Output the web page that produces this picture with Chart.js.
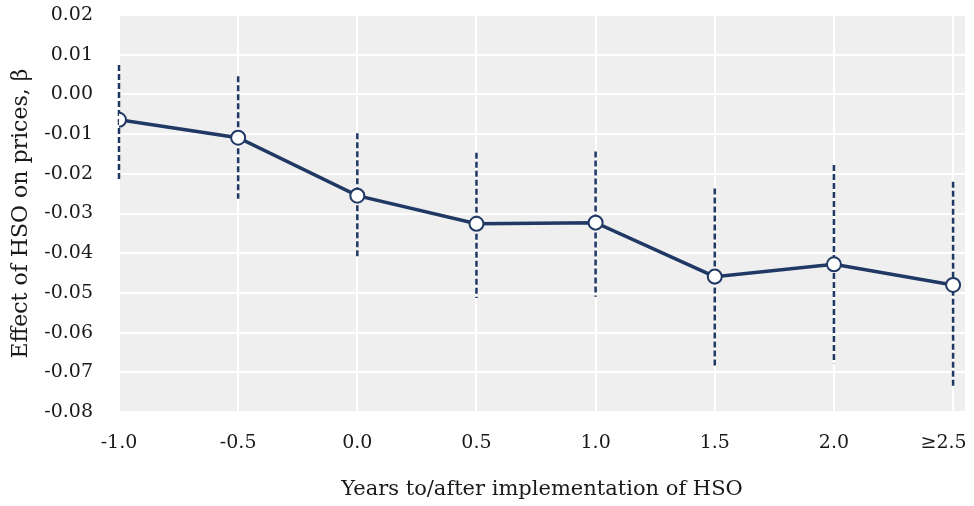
<!DOCTYPE html>
<html>
<head>
<meta charset="utf-8">
<script src="https://cdn.jsdelivr.net/npm/chart.js@4/dist/chart.umd.min.js"></script>
<style>
  html, body { margin: 0; padding: 0; background: #fff; }
  #wrap { width: 974px; height: 506px; }
</style>
</head>
<body>
<div id="wrap"><canvas id="main-chart"></canvas></div>
<script>
// ---- Data ----
const categories = ['-1.0', '-0.5', '0.0', '0.5', '1.0', '1.5', '2.0', '\u22652.5'];
const beta    = [-0.0064, -0.0109, -0.0255, -0.0326, -0.0323, -0.0459, -0.0428, -0.0480];
const ciLow   = [-0.0216, -0.0263, -0.0412, -0.0513, -0.0510, -0.0684, -0.0677, -0.0740];
const ciHigh  = [ 0.0074,  0.0046, -0.0098, -0.0147, -0.0144, -0.0237, -0.0178, -0.0220];
const yTicks  = [0.02, 0.01, 0.00, -0.01, -0.02, -0.03, -0.04, -0.05, -0.06, -0.07, -0.08];

const NAVY = '#1f3864';
const TXT  = '#1a1a1a';
const FONT = "'DejaVu Serif', 'Liberation Serif', serif";

const points = beta.map((v, i) => ({ x: i, y: v }));

// gray panel behind the plot
const panelBg = {
  id: 'panelBg',
  beforeDraw(chart) {
    const { ctx, chartArea: { left, top, width, height } } = chart;
    ctx.save();
    ctx.fillStyle = '#efefef';
    ctx.fillRect(left, top, width, height);
    ctx.restore();
  }
};

// dashed confidence bands
const ciBars = {
  id: 'ciBars',
  beforeDatasetsDraw(chart) {
    const { ctx, scales: { x, y } } = chart;
    ctx.save();
    ctx.strokeStyle = NAVY;
    ctx.lineWidth = 2.5;
    ctx.setLineDash([6, 3]);
    categories.forEach((c, i) => {
      const px = x.getPixelForValue(i);
      ctx.beginPath();
      ctx.moveTo(px, y.getPixelForValue(ciHigh[i]));
      ctx.lineTo(px, y.getPixelForValue(ciLow[i]));
      ctx.stroke();
    });
    ctx.restore();
  }
};

new Chart(document.getElementById('main-chart'), {
  type: 'line',
  data: {
    datasets: [{
      label: 'beta',
      data: points,
      borderColor: NAVY,
      borderWidth: 3.5,
      pointRadius: 7,
      pointBackgroundColor: '#ffffff',
      pointBorderColor: NAVY,
      pointBorderWidth: 2,
      tension: 0,
    }]
  },
  options: {
    responsive: true,
    maintainAspectRatio: false,
    animation: false,
    layout: { padding: { top: 15, right: 5, left: 0, bottom: 0 } },
    plugins: {
      legend: { display: false },
      tooltip: { enabled: false }
    },
    scales: {
      x: {
        type: 'linear',
        min: 0,
        max: 7.1,
        afterBuildTicks: axis => { axis.ticks = categories.map((c, i) => ({ value: i })); },
        afterFit: axis => { axis.height = 94; axis.paddingLeft = 0; axis.paddingRight = 0; },
        border: { display: false },
        grid: { color: '#ffffff', lineWidth: 2, drawTicks: false },
        ticks: {
          color: TXT,
          font: { family: FONT, size: 19 },
          padding: 20,
          maxRotation: 0,
          // last label is pushed left a little so it stays inside the canvas
          callback: v => v === categories.length - 1 ? categories[v] + '\u2002\u2002' : categories[v]
        },
        title: {
          display: true,
          text: 'Years to/after implementation of HSO',
          color: TXT,
          font: { family: FONT, size: 21 },
          padding: { top: 0, bottom: 4 }
        }
      },
      y: {
        min: -0.08,
        max: 0.02,
        afterBuildTicks: axis => { axis.ticks = yTicks.map(v => ({ value: v })); },
        afterFit: axis => { axis.width = 119; axis.paddingTop = 0; axis.paddingBottom = 0; },
        border: { display: false },
        grid: { color: '#ffffff', lineWidth: 2, drawTicks: false },
        ticks: {
          color: TXT,
          font: { family: FONT, size: 19 },
          padding: 26,
          callback: v => (Math.abs(v) < 1e-9 ? 0 : v).toFixed(2)
        },
        title: {
          display: true,
          text: 'Effect of HSO on prices, \u03b2',
          color: TXT,
          font: { family: FONT, size: 22 },
          padding: { top: 8, bottom: 0 }
        }
      }
    }
  },
  plugins: [panelBg, ciBars]
});
</script>
</body>
</html>
